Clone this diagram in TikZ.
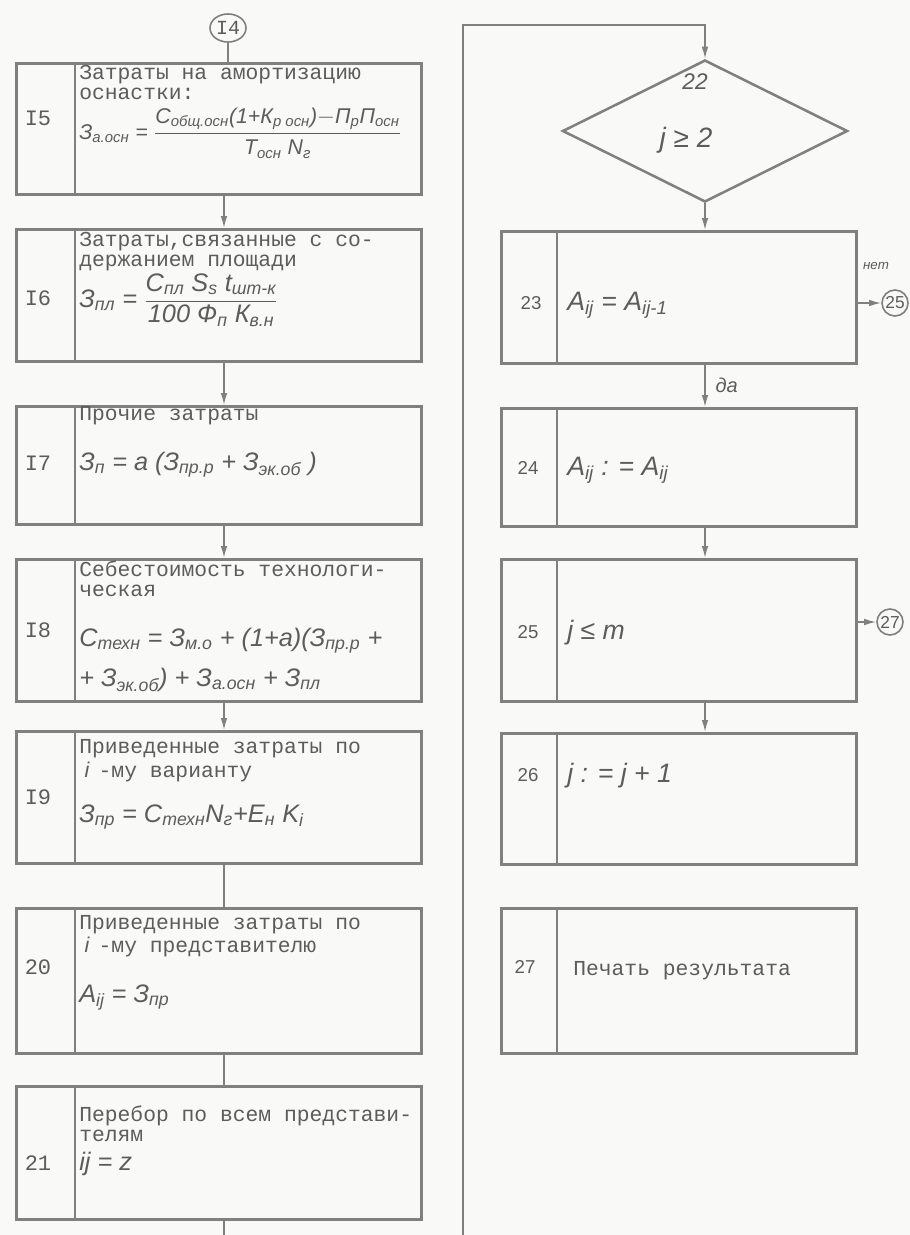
\documentclass[tikz,border=0pt]{standalone}
\usepackage{fontspec}
\setmainfont{Liberation Sans}
\newfontfamily\typew{Liberation Mono}
\newfontfamily\hand{Liberation Sans}
\usetikzlibrary{shapes.geometric,arrows.meta}

\definecolor{paper}{RGB}{249,249,247}
\definecolor{inkline}{RGB}{128,128,128}
\definecolor{inktext}{RGB}{92,92,92}

\newcommand\sbs[1]{\textsubscript{#1}}
\newcommand\hfrac[2]{$\displaystyle\frac{\hbox{#1}}{\hbox{#2}}$}

\tikzset{
  blockbox/.style 2 args={draw=inkline, line width=1.9pt, rectangle, inner sep=0pt,
    minimum width=#1*0.75pt, minimum height=#2*0.75pt, anchor=north west},
  decision/.style={draw=inkline, line width=1.9pt, diamond, aspect=2, inner sep=0pt,
    minimum width=213.75pt, minimum height=106.5pt},
  divline/.style={draw=inkline, line width=1.9pt},
  typetext/.style={text=inktext, inner sep=0pt, align=left, anchor=base west,
    font=\typew\fontsize{16}{15}\selectfont},
  handtext/.style={text=inktext, inner sep=0pt, align=left, anchor=base west,
    font=\hand\itshape\fontsize{19}{22}\selectfont},
  numleft/.style={text=inktext, inner sep=0pt, font=\typew\fontsize{16.5}{18}\selectfont},
  numright/.style={text=inktext, inner sep=0pt, font=\fontsize{14}{16}\selectfont},
  flow/.style={draw=inkline, line width=1.2pt},
  flowarrow/.style={flow, -{Latex[length=9pt,width=5pt]}},
  connector/.style={circle, draw=inkline, line width=1.2pt, minimum size=19.5pt,
    inner sep=0pt, text=inktext, font=\fontsize{13}{14}\selectfont},
}

\begin{document}
\begin{tikzpicture}[x=0.75pt,y=0.75pt,yscale=-1,xscale=1]
\fill[paper] (0,0) rectangle (910,1235);
\useasboundingbox (0,0) rectangle (910,1235);
\coordinate (spine) at (224,0);

% left column blocks
\node[blockbox={405}{131}] (b15) at (15,62) {};
\node[blockbox={405}{132}] (b16) at (15,228) {};
\node[blockbox={405}{118}] (b17) at (15,405) {};
\node[blockbox={405}{142}] (b18) at (15,558) {};
\node[blockbox={405}{132}] (b19) at (15,730) {};
\node[blockbox={405}{145}] (b20) at (15,907) {};
\node[blockbox={405}{133}] (b21) at (15,1085) {};
\foreach \b in {b15,b16,b17,b18,b19,b20,b21}
  \draw[divline] ([xshift=45pt]\b.north west) -- ([xshift=45pt]\b.south west);

% right column blocks
\node[decision] (d22) at (705,131) {};
\node[blockbox={355}{132}] (b23) at (500,230) {};
\node[blockbox={355}{118}] (b24) at (500,407) {};
\node[blockbox={355}{142}] (b25) at (500,558) {};
\node[blockbox={355}{131}] (b26) at (500,732) {};
\node[blockbox={355}{145}] (b27) at (500,907) {};
\foreach \b in {b23,b24,b25,b26,b27}
  \draw[divline] ([xshift=42.75pt]\b.north west) -- ([xshift=42.75pt]\b.south west);

% off-page connectors
\node[connector, ellipse, minimum width=27pt, minimum height=21pt, font=\typew\fontsize{15}{16}\selectfont] (c14) at (228,28) {I4};
\node[connector] (c25) at (895,303) {25};
\node[connector] (c27) at (890,622) {27};

% block numbers
\node[numleft] (n15) at (38,118) {I5};
\node[numleft] (n16) at (38,298) {I6};
\node[numleft] (n17) at (38,463) {I7};
\node[numleft] (n18) at (38,630) {I8};
\node[numleft] (n19) at (38,797) {I9};
\node[numleft] (n20) at (38,967) {20};
\node[numleft] (n21) at (38,1163) {21};
\node[numright] (n23) at (531,303) {23};
\node[numright] (n24) at (528,468) {24};
\node[numright] (n25) at (528,632) {25};
\node[numright] (n26) at (528,775) {26};
\node[numright] (n27) at (525,967) {27};

% typed text (base = last line)
\node[typetext] (h15) at (79,99) {Затраты на амортизацию\\оснастки:};
\node[typetext] (h16) at (79,266) {Затраты,связанные с со-\\держанием площади};
\node[typetext] (h17) at (79,420) {Прочие затраты};
\node[typetext] (h18) at (79,596) {Себестоимость технологи-\\ческая};
\node[typetext] (h19) at (79,777) {Приведенные затраты по\\[3pt]\hspace*{4pt}{\hand\itshape i}\hspace*{7pt}-му варианту};
\node[typetext] (h20) at (79,952) {Приведенные затраты по\\[2pt]\hspace*{4pt}{\hand\itshape i}\hspace*{7pt}-му представителю};
\node[typetext] (h21) at (79,1141) {Перебор по всем представи-\\телям};
\node[typetext] (h27) at (573,975) {Печать результата};

% formulas
\node[handtext, font=\hand\itshape\fontsize{16}{18}\selectfont] (f15) at (79,139)
  {З\sbs{а.осн} = \hfrac{С\sbs{общ.осн}(1+К\sbs{р осн})$-$П\sbs{р}П\sbs{осн}}{Т\sbs{осн} N\sbs{г}}};
\node[handtext] (f16) at (79,307)
  {З\sbs{пл} = \hfrac{С\sbs{пл} S\sbs{s} t\sbs{шт-к}}{100 Ф\sbs{п} К\sbs{в.н}}};
\node[handtext] (f17) at (79,470) {З\sbs{п} = a (З\sbs{пр.р} + З\sbs{эк.об} )};
\node[handtext] (f18) at (79,686) {С\sbs{техн} = З\sbs{м.о} + (1+a)(З\sbs{пр.р} +\\[8pt]+ З\sbs{эк.об}) + З\sbs{а.осн} + З\sbs{пл}};
\node[handtext] (f19) at (79,822) {З\sbs{пр} = С\sbs{техн}N\sbs{г}+E\sbs{н} K\sbs{i}};
\node[handtext] (f20) at (79,1002) {A\sbs{ij} = З\sbs{пр}};
\node[handtext] (f21) at (79,1170) {ij = z};
\node[handtext, anchor=center, font=\hand\itshape\fontsize{17}{20}\selectfont] (q22) at (695,82) {22};
\node[handtext, anchor=center, font=\hand\itshape\fontsize{21}{24}\selectfont] (g22) at (686,140) {j ≥ 2};
\node[handtext, font=\hand\itshape\fontsize{20}{22}\selectfont] (f23) at (567,310) {A\sbs{ij} = A\sbs{ij-1}};
\node[handtext, font=\hand\itshape\fontsize{20}{22}\selectfont] (f24) at (567,475) {A\sbs{ij} : = A\sbs{ij}};
\node[handtext, font=\hand\itshape\fontsize{20}{22}\selectfont] (f25) at (567,639) {j ≤ m};
\node[handtext, font=\hand\itshape\fontsize{20}{22}\selectfont] (f26) at (567,782) {j : = j + 1};

% connectors, left column
\draw[flow] (c14.south) -- (c14.south |- b15.north);
\draw[flowarrow] (b15.south -| spine) -- (b16.north -| spine);
\draw[flowarrow] (b16.south -| spine) -- (b17.north -| spine);
\draw[flowarrow] (b17.south -| spine) -- (b18.north -| spine);
\draw[flowarrow] (b18.south -| spine) -- (b19.north -| spine);
\draw[flow] (b19.south -| spine) -- (b20.north -| spine);
\draw[flow] (b20.south -| spine) -- (b21.north -| spine);
\coordinate (foot21) at (224,1235);
\draw[flow] (b21.south -| spine) -- (foot21);

% return line to block 22
\coordinate (footret) at (463,1235);
\coordinate (topret) at (463,25);
\draw[flowarrow] (footret) -- (topret) -| (d22.north);

% connectors, right column
\draw[flowarrow] (d22.south) -- (d22.south |- b23.north);
\draw[flowarrow] (b23.south -| d22) -- (b24.north -| d22)
  node[midway, right, xshift=4pt, text=inktext, font=\hand\itshape\fontsize{15}{16}\selectfont] (yes23) {да};
\draw[flowarrow] (b24.south -| d22) -- (b25.north -| d22);
\draw[flowarrow] (b25.south -| d22) -- (b26.north -| d22);
\draw[flowarrow] (c25 -| b23.east) -- (c25.west);
\draw[flowarrow] (c27 -| b25.east) -- (c27.west);
\node[text=inktext, font=\hand\itshape\fontsize{10}{11}\selectfont] (no23) at (876,266) {нет};

\end{tikzpicture}
\end{document}
